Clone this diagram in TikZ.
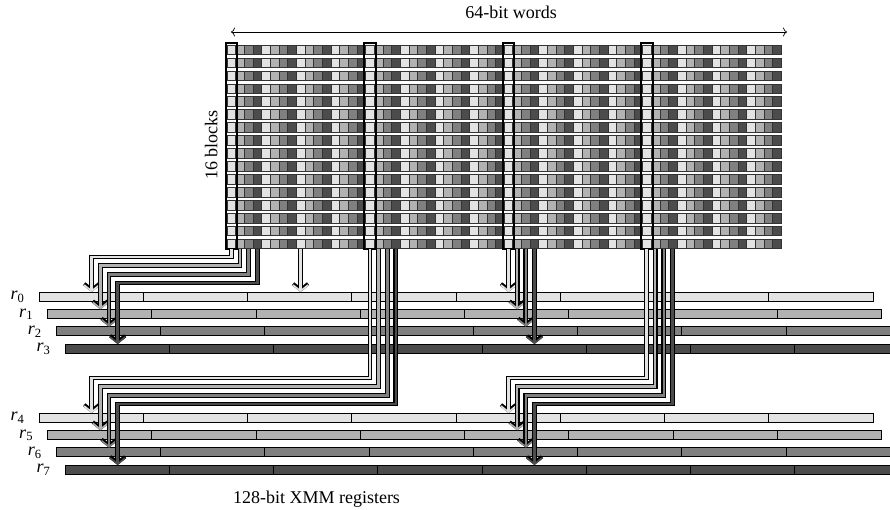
\documentclass[tikz,border=0pt]{standalone}
\usepackage{fontspec}
\setmainfont{Liberation Serif}
\usetikzlibrary{arrows.meta}
\definecolor{cA}{gray}{0.89}
\definecolor{cB}{gray}{0.70}
\definecolor{cC}{gray}{0.50}
\definecolor{cD}{gray}{0.30}
\tikzset{
  cellb/.style={draw=black!80, line width=0.6pt},
  bar/.style={draw=black, line width=0.9pt},
  arrout/.style={draw=black, line width=4.8pt,
     -{Straight Barb[length=6pt,width=15pt,line width=3.6pt]}},
  arrin/.style={draw=#1, line width=2.6pt,
     -{Straight Barb[length=6pt,width=15pt,line width=1.6pt]}},
  blk/.style={draw=black, line width=2pt},
  lab/.style={font=\fontsize{18}{20}\selectfont, inner sep=0pt},
  dim/.style={draw=black, line width=0.7pt, {To[length=4pt,width=9pt]}-{To[length=4pt,width=9pt]}},
}
\newcommand\dblarr[2]{\draw[arrout] #2; \draw[arrin=#1] #2;}
\begin{document}
\begin{tikzpicture}[x=1pt,y=-1pt]
\useasboundingbox (0,0) rectangle (890,510);
\clip (0,0) rectangle (890,510);
% ---- grid of 16 blocks x 64 words
\foreach \r in {0,...,15}{
  \pgfmathsetmacro\yy{45+12.95*\r}
  \foreach \c in {0,...,15}{
    \pgfmathsetmacro\xx{227+34.64*\c}
    \draw[cellb,fill=cA] (\xx,\yy) rectangle ++(8.66,9.5);
    \draw[cellb,fill=cB] (\xx+8.66,\yy) rectangle ++(8.66,9.5);
    \draw[cellb,fill=cC] (\xx+17.32,\yy) rectangle ++(8.66,9.5);
    \draw[cellb,fill=cD] (\xx+25.98,\yy) rectangle ++(8.66,9.5);
  }
}
% ---- highlighted columns
\foreach \c in {0,16,32,48}{
  \pgfmathsetmacro\xx{227+8.66*\c}
  \draw[blk] (\xx-1.5,43.5) rectangle (\xx+10.2,249.5);
}
% ---- registers
\foreach \k/\col in {0/cA,1/cB,2/cC,3/cD}{
  \pgfmathsetmacro\bx{39+8.66*\k}
  \pgfmathsetmacro\by{292+17.35*\k}
  \pgfmathsetmacro\byy{413+17.35*\k}
  \foreach \s in {0,...,7}{
    \draw[bar,fill=\col] (\bx+104.25*\s,\by) rectangle ++(104.25,9);
    \draw[bar,fill=\col] (\bx+104.25*\s,\byy) rectangle ++(104.25,9);
  }
  \pgfmathtruncatemacro\kk{\k+4}
  \node[lab] (l\k) at (17.5+8.66*\k,297+17.35*\k) {\textit{r}\textsubscript{\k}};
  \node[lab] (l\kk) at (17.5+8.66*\k,418+17.35*\k) {\textit{r}\textsubscript{\kk}};
}
% ---- sources, bends and targets
\foreach \k in {0,1,2,3}{
  \pgfmathsetmacro\xa{231.35+8.66*\k}
  \pgfmathsetmacro\xb{508.5+8.66*\k}
  \pgfmathsetmacro\xc{369.9+8.66*\k}
  \pgfmathsetmacro\xd{646.5+8.66*\k}
  \pgfmathsetmacro\xl{91.7+8.66*\k}
  \pgfmathsetmacro\yu{292+17.35*\k}
  \pgfmathsetmacro\yl{413+17.35*\k}
  \pgfmathsetmacro\hu{257+8.66*\k}
  \pgfmathsetmacro\hl{378+8.66*\k}
  \coordinate (sa\k) at (\xa,249.5);
  \coordinate (sb\k) at (\xb,249.5);
  \coordinate (sc\k) at (\xc,249.5);
  \coordinate (sd\k) at (\xd,249.5);
  \coordinate (ba\k) at (\xa,\hu);
  \coordinate (bc\k) at (\xc,\hl);
  \coordinate (bd\k) at (\xd,\hl);
  \coordinate (ta\k) at (\xl,\yu);
  \coordinate (tb\k) at (\xb,\yu);
  \coordinate (tc\k) at (\xl,\yl);
  \coordinate (td\k) at (\xb,\yl);
}
\coordinate (s8) at (300.6,249.5);
\coordinate (t8) at (300.6,292);
% ---- arrows
\foreach \k/\col in {0/cA,1/cB,2/cC,3/cD}{
  \dblarr{\col}{(sa\k) -- (ba\k) -| (ta\k)}
  \dblarr{\col}{(sc\k) -- (bc\k) -| (tc\k)}
  \dblarr{\col}{(sb\k) -- (tb\k)}
  \dblarr{\col}{(sd\k) -- (bd\k) -| (td\k)}
}
\dblarr{cA}{(s8) -- (t8)}
% ---- labels
\coordinate (dl) at (231,32);
\coordinate (dr) at (787,32);
\draw[dim] (dl) -- (dr);
\node[lab] (words) at (511,12.5) {64-bit words};
\node[lab, rotate=90] (blocks) at (211.3,145) {16 blocks};
\node[lab] (xmm) at (316.5,499.5) {128-bit XMM registers};
\end{tikzpicture}
\end{document}
